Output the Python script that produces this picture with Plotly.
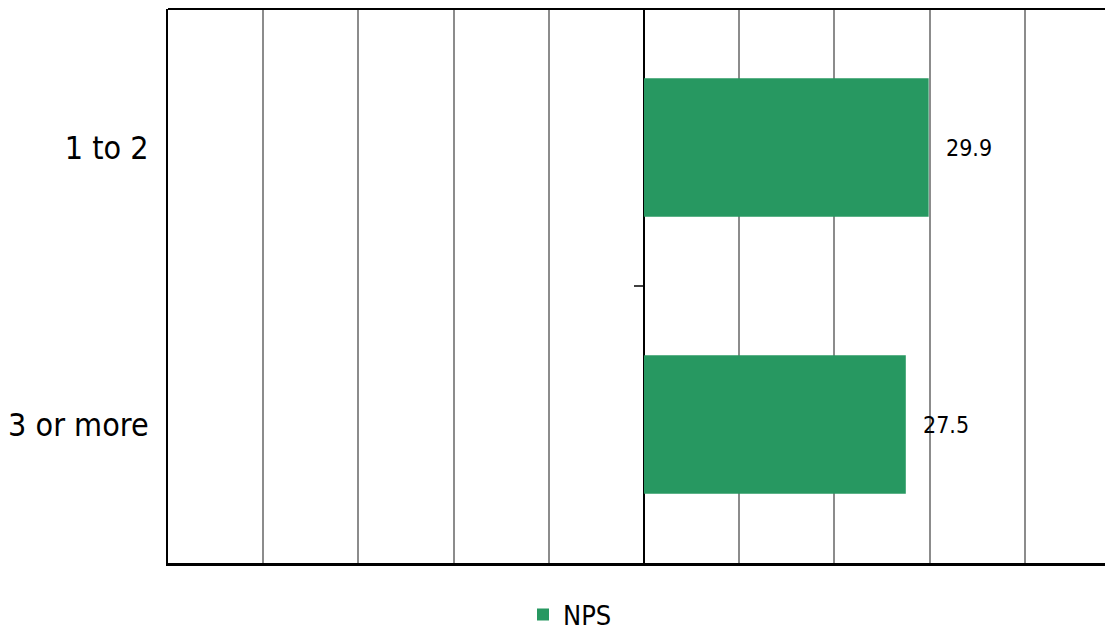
import plotly.graph_objects as go

categories = ["1 to 2", "3 or more"]
nps_values = [29.9, 27.5]
value_labels = ["29.9", "27.5"]
series_name = "NPS"

BAR_COLOR = "#279861"
FONT = "DejaVu Sans Condensed, DejaVu Sans"

fig = go.Figure()
fig.add_trace(go.Bar(
    y=categories, x=nps_values, orientation="h", name=series_name,
    marker=dict(color=BAR_COLOR, line=dict(width=0)), width=0.5,
    showlegend=True,
))

for c, v, t in zip(categories, nps_values, value_labels):
    fig.add_annotation(x=v, y=c, xref="x", yref="y", text=t, showarrow=False,
                       xanchor="left", yanchor="middle", xshift=15,
                       font=dict(family=FONT, size=23, color="#000000"))

W, H = 1105, 640
L, R, T, B = 160, 0, 1, 85
xmin = -50
xmax = xmin + 100 * (W - L - R) / (1120 - 168)

fig.update_layout(
    width=W, height=H,
    margin=dict(l=L, r=R, t=T, b=B),
    paper_bgcolor="white", plot_bgcolor="white",
    font=dict(family=FONT, color="#000000"),
    xaxis=dict(range=[xmin, xmax], dtick=10, tick0=0, showticklabels=False,
               showgrid=True, gridcolor="#8c8c8c", gridwidth=2,
               zeroline=True, zerolinecolor="#000000", zerolinewidth=1.5,
               showline=True, linecolor="#000000", linewidth=2.5, ticks=""),
    yaxis=dict(range=[1.5, -0.5], showgrid=False, zeroline=False,
               showline=True, linecolor="#000000", linewidth=2,
               tickfont=dict(family=FONT, size=32, color="#000000"),
               ticks="", ticklabelstandoff=11),
    legend=dict(orientation="h", xref="container", x=515 / W, xanchor="left",
                yref="container", y=(H - 607) / H, yanchor="middle",
                bgcolor="rgba(0,0,0,0)",
                font=dict(family=FONT, size=27, color="#000000"),
                itemwidth=30, tracegroupgap=0),
)

# top border
fig.add_shape(type="line", xref="paper", yref="paper", x0=0, x1=1, y0=1, y1=1,
              line=dict(color="#000000", width=2))
# small tick on zero line between categories
fig.add_shape(type="line", xref="x", yref="y", xsizemode="pixel", xanchor=0,
              x0=-10, x1=0, y0=0.5, y1=0.5,
              line=dict(color="#000000", width=1.5))

fig.write_html("out.html")
